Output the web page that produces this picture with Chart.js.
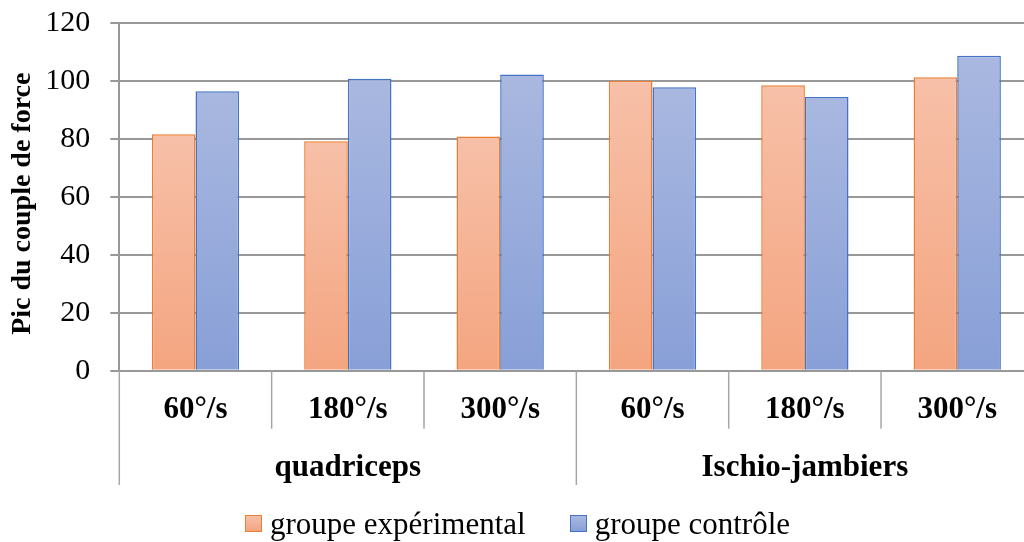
<!DOCTYPE html>
<html>
<head>
<meta charset="utf-8">
<script src="https://cdn.jsdelivr.net/npm/chart.js@4.4.1/dist/chart.umd.min.js"></script>
<style>
  html, body { margin: 0; padding: 0; background: #fff; overflow: hidden; }
  #wrap { position: absolute; left: 0; top: 0; width: 1040px; height: 542px; }
  #legend { position: absolute; left: 245px; top: 505px; display: flex; align-items: center;
            font-family: "Liberation Serif", "Times New Roman", serif; font-size: 31px; color: #000;
            white-space: nowrap; line-height: 37px; }
  .item { display: flex; align-items: center; margin-right: 44px; }
  .box { width: 15px; height: 15px; border: 1px solid; margin-right: 8px; box-sizing: content-box; }
</style>
</head>
<body>
<div id="wrap"><canvas id="c"></canvas></div>
<div id="legend"></div>
<script>
// Angular speeds tested for each muscle group
const speeds = ['60°/s', '180°/s', '300°/s', '60°/s', '180°/s', '300°/s'];
const muscleGroups = ['quadriceps', 'Ischio-jambiers'];
const speedsPerGroup = 3;

// Peak torque values
const experimental = [81.5, 79.1, 80.8, 100.0, 98.4, 101.2];
const control = [96.4, 100.7, 102.1, 97.7, 94.4, 108.6];

const seriesNames = ['groupe expérimental', 'groupe contrôle'];

// Y axis range
const yMin = 0, yMax = 120, yStep = 20;

const serif = '"Liberation Serif", "Times New Roman", serif';

// vertical gradient from the top of each bar down to the baseline
function barGradient(topColor, bottomColor) {
  return (ctx) => {
    const chart = ctx.chart;
    if (!chart.chartArea || !ctx.parsed) return bottomColor;
    const y = chart.scales.y;
    const y0 = y.getPixelForValue(ctx.parsed.y);
    const y1 = y.getPixelForValue(0);
    const g = chart.ctx.createLinearGradient(0, y0, 0, y1);
    g.addColorStop(0, topColor);
    g.addColorStop(1, bottomColor);
    return g;
  };
}

const palette = [
  { top: '#f7c0a8', bottom: '#f4a580', border: '#ed7d31' },
  { top: '#a9b8e0', bottom: '#889fd7', border: '#4472c4' }
];

// separators of the two-level category axis
const separators = {
  id: 'separators',
  afterDraw(chart) {
    const x = chart.scales.x, x2 = chart.scales.x2, ctx = chart.ctx;
    const top = chart.chartArea.bottom;
    const n = speeds.length;
    ctx.save();
    ctx.strokeStyle = '#a6a6a6';
    ctx.lineWidth = 1.5;
    for (let i = 0; i <= n; i++) {
      let px;
      if (i === 0) px = x.left;
      else if (i === n) px = x.right;
      else px = (x.getPixelForValue(i - 1) + x.getPixelForValue(i)) / 2;
      const bottom = (i % speedsPerGroup === 0) ? x2.bottom : x.bottom;
      ctx.beginPath();
      ctx.moveTo(px, top);
      ctx.lineTo(px, bottom);
      ctx.stroke();
    }
    ctx.restore();
  }
};

const chart = new Chart(document.getElementById('c'), {
  type: 'bar',
  data: {
    labels: speeds,
    datasets: [
      { label: seriesNames[0], data: experimental,
        backgroundColor: barGradient(palette[0].top, palette[0].bottom),
        borderColor: palette[0].border, borderWidth: 1.5 },
      { label: seriesNames[1], data: control,
        backgroundColor: barGradient(palette[1].top, palette[1].bottom),
        borderColor: palette[1].border, borderWidth: 1.5 }
    ]
  },
  options: {
    responsive: true,
    maintainAspectRatio: false,
    animation: false,
    devicePixelRatio: 1,
    layout: { padding: { top: 22.7, right: 6.6, bottom: 57, left: 0 } },
    datasets: { bar: { categoryPercentage: 0.573, barPercentage: 1.0 } },
    plugins: {
      legend: { display: false },
      tooltip: { enabled: false }
    },
    scales: {
      x: {
        type: 'category',
        position: 'bottom',
        weight: 0,
        offset: true,
        grid: { display: false, drawTicks: false },
        border: { display: false },
        ticks: { color: '#000', font: { family: serif, size: 31, weight: 'bold' }, padding: 21, maxRotation: 0, autoSkip: false },
        afterFit(s) { s.height = 58; }
      },
      x2: {
        type: 'category',
        position: 'bottom',
        weight: 1,
        offset: true,
        labels: muscleGroups,
        grid: { display: false, drawTicks: false },
        border: { display: false },
        ticks: { color: '#000', font: { family: serif, size: 31, weight: 'bold' }, padding: 21, maxRotation: 0, autoSkip: false },
        afterFit(s) { s.height = 56.3; }
      },
      y: {
        min: yMin,
        max: yMax,
        ticks: { stepSize: yStep, color: '#000', font: { family: serif, size: 30 }, padding: 20 },
        grid: { color: '#989898', lineWidth: 2, tickLength: 9 },
        border: { color: '#989898', width: 2 },
        title: { display: true, text: 'Pic du couple de force\u00a0\u00a0', color: '#000',
                 font: { family: serif, size: 28, weight: 'bold' }, padding: { top: 6, bottom: 4 } },
        afterFit(s) { s.width = 119.3; s.paddingTop = 0; s.paddingBottom = 0; }
      }
    }
  },
  plugins: [separators]
});

// legend built from the chart's datasets
const legend = document.getElementById('legend');
chart.data.datasets.forEach((ds, i) => {
  const item = document.createElement('div');
  item.className = 'item';
  const box = document.createElement('span');
  box.className = 'box';
  box.style.borderColor = palette[i].border;
  box.style.background = `linear-gradient(${palette[i].top}, ${palette[i].bottom})`;
  const text = document.createElement('span');
  text.textContent = ds.label;
  item.appendChild(box);
  item.appendChild(text);
  legend.appendChild(item);
});
</script>
</body>
</html>
